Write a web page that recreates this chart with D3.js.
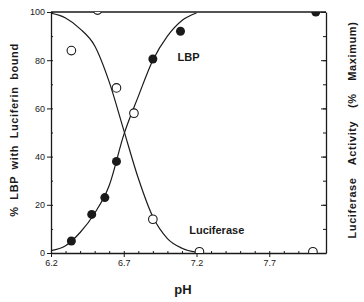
<!DOCTYPE html>
<html>
<head>
<meta charset="utf-8">
<script src="https://cdn.jsdelivr.net/npm/d3@7"></script>
<style>
  body { margin: 0; background: #fff; }
  svg { font-family: "Liberation Sans", Arial, sans-serif; }
</style>
</head>
<body>
<svg id="chart"></svg>
<script>
// measured points
const lbpBound = [[6.34, 5], [6.48, 16], [6.57, 23], [6.65, 38], [6.9, 80.5], [7.09, 92], [8.02, 100]];
const lucActivity = [[6.34, 84], [6.52, 100.8], [6.65, 68.5], [6.77, 58], [6.9, 14], [7.22, 0.5], [8.0, 0.5]];

// fitted curves
const lbpCurve = [[6.2, 1], [6.3, 3], [6.4, 8.5], [6.5, 16.5], [6.6, 28], [6.7, 49], [6.8, 65], [6.9, 80], [7.0, 90], [7.1, 96.5], [7.2, 99.6]];
const lucCurve = [[6.2, 99.5], [6.3, 97.5], [6.4, 93], [6.5, 86], [6.6, 71], [6.7, 51], [6.8, 31], [6.9, 15], [7.0, 6], [7.1, 2], [7.2, 0.3]];

const xTicks = [6.2, 6.7, 7.2, 7.7];
const yTicks = [0, 20, 40, 60, 80, 100];

const margin = { top: 12, right: 38, bottom: 49, left: 51 };
const width = 364 - margin.left - margin.right;
const height = 302 - margin.top - margin.bottom;

const svg = d3.select("#chart").attr("width", 364).attr("height", 302);
const g = svg.append("g").attr("transform", `translate(${margin.left},${margin.top})`);

const x = d3.scaleLinear().domain([6.2, 8.09]).range([0, width]);
const y = d3.scaleLinear().domain([0, 100]).range([height, 0]);

const ink = "#1a1a1a";

g.append("defs").append("clipPath").attr("id", "clip")
  .append("rect").attr("width", width).attr("height", height);

// minor ticks
g.append("g").attr("transform", `translate(0,${height})`)
  .call(d3.axisBottom(x).tickValues(d3.range(62, 81).map(d => d / 10)).tickSize(-2).tickFormat(""))
  .call(a => a.select(".domain").remove());
g.append("g")
  .call(d3.axisLeft(y).tickValues(d3.range(0, 101, 10)).tickSize(-2).tickFormat(""))
  .call(a => a.select(".domain").remove());
g.append("g").attr("transform", `translate(${width},0)`)
  .call(d3.axisRight(y).tickValues(d3.range(0, 101, 10)).tickSize(-3).tickFormat(""))
  .call(a => a.select(".domain").remove());

// main axes
g.append("g").attr("transform", `translate(0,${height})`)
  .call(d3.axisBottom(x).tickValues(xTicks).tickSize(4).tickSizeOuter(0).tickPadding(3).tickFormat(d3.format(".1f")));
g.append("g")
  .call(d3.axisLeft(y).tickValues(yTicks).tickSize(4).tickSizeOuter(0).tickPadding(2));
g.append("g").attr("transform", `translate(${width},0)`)
  .call(d3.axisRight(y).tickValues(yTicks).tickSize(-5).tickSizeOuter(0).tickFormat(""));

g.append("line").attr("x1", 0).attr("x2", width).attr("y1", 0).attr("y2", 0)
  .attr("stroke", ink).attr("stroke-width", 1.3);

g.selectAll(".domain").attr("stroke", ink).attr("stroke-width", 1.3);
g.selectAll(".tick line").attr("stroke", ink);
g.selectAll(".tick text").attr("font-size", 9).attr("fill", ink);

const line = d3.line().x(d => x(d[0])).y(d => y(d[1])).curve(d3.curveMonotoneX);
const plot = g.append("g").attr("clip-path", "url(#clip)");

plot.append("path").datum(lbpCurve).attr("d", line)
  .attr("fill", "none").attr("stroke", ink).attr("stroke-width", 1.2);
plot.append("path").datum(lucCurve).attr("d", line)
  .attr("fill", "none").attr("stroke", ink).attr("stroke-width", 1.2);

plot.selectAll(".open").data(lucActivity).enter().append("circle")
  .attr("class", "open")
  .attr("cx", d => x(d[0])).attr("cy", d => y(d[1])).attr("r", 4.3)
  .attr("fill", "#fff").attr("stroke", ink).attr("stroke-width", 1.1);

plot.selectAll(".filled").data(lbpBound).enter().append("circle")
  .attr("class", "filled")
  .attr("cx", d => x(d[0])).attr("cy", d => y(d[1])).attr("r", 4.5)
  .attr("fill", ink);

g.append("text").attr("x", x(7.07)).attr("y", y(79.5))
  .attr("font-size", 11).attr("font-weight", "bold").attr("fill", ink).text("LBP");
g.append("text").attr("x", x(7.15)).attr("y", y(7.8))
  .attr("font-size", 11).attr("font-weight", "bold").attr("fill", ink).text("Luciferase");

svg.append("text").attr("x", 183).attr("y", 294).attr("text-anchor", "middle")
  .attr("font-size", 13).attr("font-weight", "bold").attr("fill", ink).text("pH");

svg.append("text").attr("transform", "translate(18,130) rotate(-90)")
  .attr("text-anchor", "middle").attr("font-size", 11).attr("font-weight", "bold")
  .attr("letter-spacing", 0.6).attr("word-spacing", 3).attr("fill", ink)
  .text("% LBP with Luciferin bound");

svg.append("text").attr("transform", "translate(356,130) rotate(-90)")
  .attr("text-anchor", "middle").attr("font-size", 11).attr("font-weight", "bold")
  .attr("letter-spacing", 0.6).attr("word-spacing", 9).attr("fill", ink)
  .text("Luciferase Activity (% Maximum)");
</script>
</body>
</html>
